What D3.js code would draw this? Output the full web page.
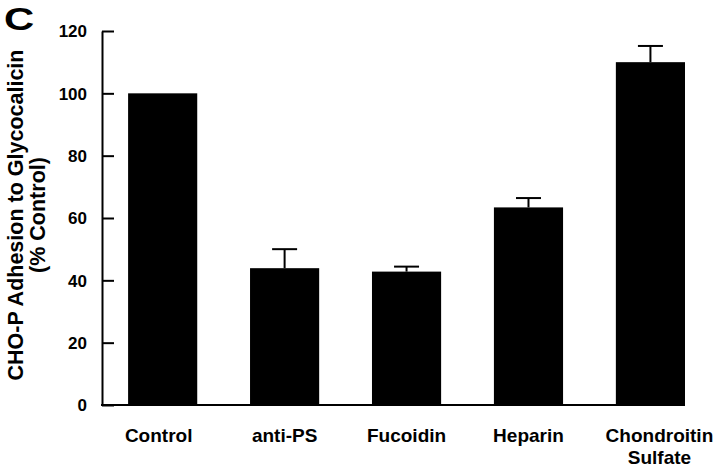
<!DOCTYPE html>
<html>
<head>
<meta charset="UTF-8">
<style>
  body { margin: 0; background: #fff; }
  text { font-family: "Liberation Sans", Arial, Helvetica, sans-serif; font-weight: bold; fill: #000; }
</style>
</head>
<body>
<svg id="chart"></svg>
<script src="https://d3js.org/d3.v7.min.js"></script>
<script>
// data
var categories = ["Control", "anti-PS", "Fucoidin", "Heparin", "Chondroitin Sulfate"];
var labelLines = [["Control"], ["anti-PS"], ["Fucoidin"], ["Heparin"], ["Chondroitin", "Sulfate"]];
var values = [100, 43.9, 42.8, 63.4, 110];
var errors = [0, 6.1, 1.6, 3.0, 5.2];
var yTicks = [0, 20, 40, 60, 80, 100, 120];

var width = 720, height = 472;
var labelNudge = [-4, 0, 0, 0, 9];

var svg = d3.select("#chart")
    .attr("width", width)
    .attr("height", height);

var x = d3.scaleBand()
    .domain(categories)
    .range([102, 685])
    .paddingInner(0.433)
    .paddingOuter(0.107)
    .align(1);

var y = d3.scaleLinear()
    .domain([0, 120])
    .range([405, 31]);

// panel letter, wide bold C
svg.append("text")
    .attr("transform", "translate(4,30) scale(1.35,1)")
    .style("font-size", "31px")
    .text("C");

// bars
svg.selectAll("rect.bar")
    .data(categories)
    .enter()
    .append("rect")
    .attr("class", "bar")
    .attr("x", function(d){ return x(d); })
    .attr("y", function(d, i){ return y(values[i]); })
    .attr("width", x.bandwidth())
    .attr("height", function(d, i){ return y(0) - y(values[i]); })
    .attr("fill", "#000");

// error bars (upper only)
var eb = svg.append("g").attr("stroke", "#000").attr("stroke-width", 2);
categories.forEach(function(d, i){
    if (errors[i] <= 0) return;
    var cx = x(d) + x.bandwidth() / 2;
    eb.append("line")
        .attr("x1", cx).attr("x2", cx)
        .attr("y1", y(values[i])).attr("y2", y(values[i] + errors[i]));
    eb.append("line")
        .attr("x1", cx - 12.5).attr("x2", cx + 12.5)
        .attr("y1", y(values[i] + errors[i])).attr("y2", y(values[i] + errors[i]));
});

// y axis, ticks pointing inward
var yAxis = svg.append("g")
    .attr("transform", "translate(102,0)")
    .call(d3.axisRight(y).tickValues(yTicks).tickSize(12).tickSizeOuter(0).tickFormat(d3.format("d")));
yAxis.select(".domain").attr("stroke", "#000").attr("stroke-width", 2);
yAxis.selectAll(".tick line").attr("stroke", "#000").attr("stroke-width", 2);
yAxis.selectAll(".tick text")
    .attr("x", -15)
    .attr("dy", "0.35em")
    .attr("text-anchor", "end")
    .style("font-size", "17px")
    .style("font-family", "'Liberation Sans', Arial, sans-serif")
    .style("font-weight", "bold");

// baseline
svg.append("line")
    .attr("x1", 101).attr("x2", x.range()[1])
    .attr("y1", y(0)).attr("y2", y(0))
    .attr("stroke", "#000").attr("stroke-width", 2);

// category labels
var lab = svg.append("g");
categories.forEach(function(d, i){
    var cx = x(d) + x.bandwidth() / 2 + labelNudge[i];
    var t = lab.append("text")
        .attr("text-anchor", "middle")
        .attr("x", cx)
        .attr("y", 442)
        .style("font-size", "19px");
    labelLines[i].forEach(function(s, j){
        t.append("tspan")
            .attr("x", cx)
            .attr("dy", j === 0 ? 0 : 22)
            .text(s);
    });
});

// y axis title
var title = svg.append("text")
    .attr("transform", "translate(23,215) rotate(-90)")
    .attr("text-anchor", "middle")
    .style("font-size", "21.5px");
title.append("tspan").attr("x", 0).attr("dy", 0).text("CHO-P Adhesion to Glycocalicin");
title.append("tspan").attr("x", 0).attr("dy", 22).text("(% Control)");
</script>
</body>
</html>
